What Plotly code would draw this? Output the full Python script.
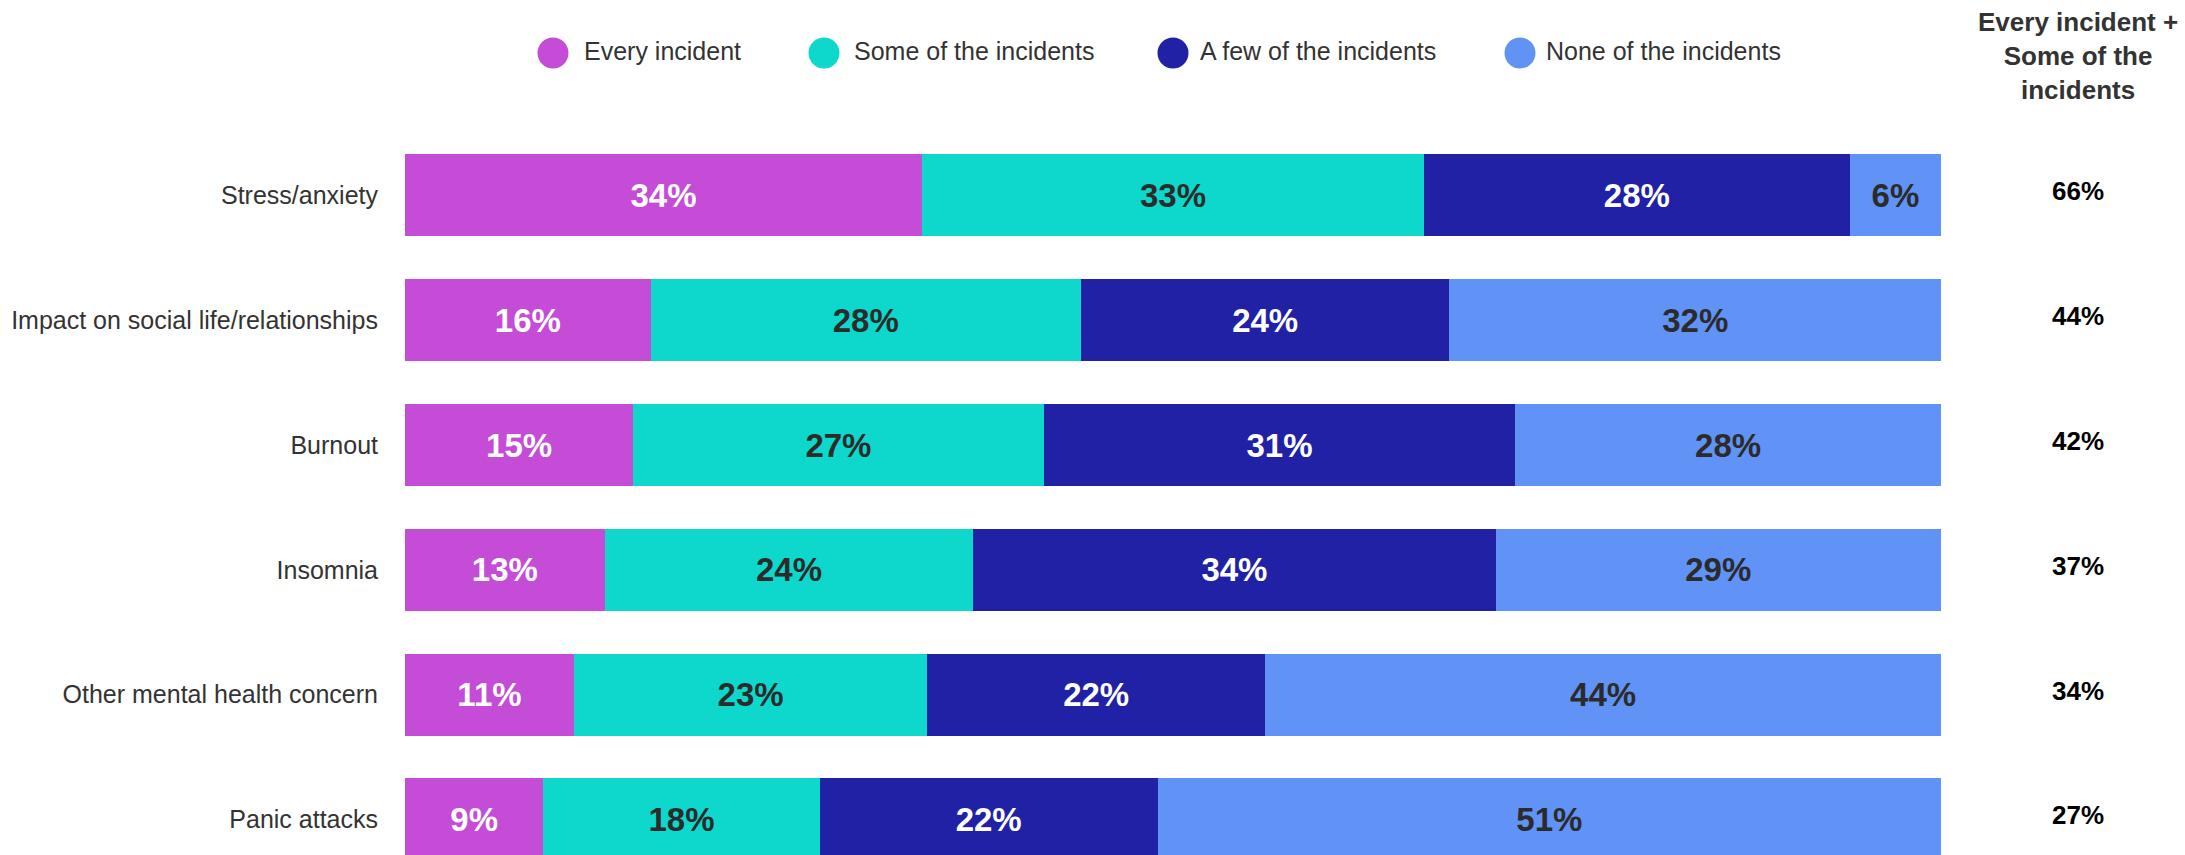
import plotly.graph_objects as go

# Survey data: how often each concern occurred across incidents
categories = [
    "Stress/anxiety",
    "Impact on social life/relationships",
    "Burnout",
    "Insomnia",
    "Other mental health concern",
    "Panic attacks",
]
series_names = [
    "Every incident",
    "Some of the incidents",
    "A few of the incidents",
    "None of the incidents",
]
every_incident = [34, 16, 15, 13, 11, 9]
some_incidents = [33, 28, 27, 24, 23, 18]
few_incidents = [28, 24, 31, 34, 22, 22]
no_incidents = [6, 32, 28, 29, 44, 51]
every_plus_some = [66, 44, 42, 37, 34, 27]
summary_header = "Every incident +<br>Some of the<br>incidents"

series_values = [every_incident, some_incidents, few_incidents, no_incidents]
colors = ["#C54CD7", "#0ED7CC", "#2121A5", "#6192F5"]
label_colors = ["#FFFFFF", "#2B2B2B", "#FFFFFF", "#2B2B2B"]

W, H = 2185, 855
ML, MR, MT, MB = 405, 244, 133, 0
PW, PH = W - ML - MR, H - MT - MB
ROW = 124.8  # pixels per category row

FONT = "Liberation Sans, Arial, sans-serif"


def px_x(px):
    return (px - ML) / PW


def px_y(py):
    return (H - MB - py) / PH


fig = go.Figure()
for name, vals, col, tcol in zip(series_names, series_values, colors, label_colors):
    fig.add_trace(go.Bar(
        y=categories,
        x=vals,
        name=name,
        orientation="h",
        marker=dict(color=col, line=dict(width=0)),
        text=[f"{v}%" for v in vals],
        texttemplate="%{text}",
        textposition="inside",
        insidetextanchor="middle",
        textangle=0,
        insidetextfont=dict(family=FONT, size=33, color=tcol, weight="bold"),
        hoverinfo="skip",
        showlegend=False,
    ))

annotations = []
shapes = []

# Legend drawn as circles + labels
legend_marker_x = [553, 824, 1173, 1520]
legend_text_x = [582, 852, 1198, 1544]
for name, col, mx, tx in zip(series_names, colors, legend_marker_x, legend_text_x):
    shapes.append(dict(
        type="circle", xref="paper", yref="paper",
        xsizemode="pixel", ysizemode="pixel",
        xanchor=px_x(mx), yanchor=px_y(53),
        x0=-15.5, x1=15.5, y0=-15.5, y1=15.5,
        fillcolor=col, line=dict(width=0),
    ))
    annotations.append(dict(
        x=px_x(tx), y=px_y(51), xref="paper", yref="paper",
        xanchor="left", yanchor="middle", showarrow=False,
        text=name, font=dict(family=FONT, size=25, color="#333333"),
    ))

# Summary column on the right
annotations.append(dict(
    x=px_x(2078), y=px_y(56), xref="paper", yref="paper",
    xanchor="center", yanchor="middle", showarrow=False, align="center",
    text=f"<b>{summary_header}</b>",
    font=dict(family=FONT, size=26, color="#333333"),
))
for cat, v in zip(categories, every_plus_some):
    annotations.append(dict(
        x=px_x(2078), y=cat, xref="paper", yref="y",
        xanchor="center", yanchor="middle", showarrow=False, yshift=4,
        text=f"<b>{v}%</b>",
        font=dict(family=FONT, size=26, color="#000000"),
    ))

fig.update_layout(
    width=W, height=H,
    margin=dict(l=ML, r=MR, t=MT, b=MB, pad=0),
    paper_bgcolor="white", plot_bgcolor="white",
    barmode="stack", barnorm="percent", bargap=0.343,
    showlegend=False,
    xaxis=dict(range=[0, 100], visible=False, fixedrange=True),
    yaxis=dict(
        type="category",
        categoryorder="array", categoryarray=categories,
        range=[-0.5 + PH / ROW, -0.5],
        showgrid=False, zeroline=False, showline=False,
        ticks="", ticklabelstandoff=26,
        tickfont=dict(family=FONT, size=25, color="#333333"),
        fixedrange=True,
    ),
    shapes=shapes,
    annotations=annotations,
    uniformtext=dict(minsize=33, mode="show"),
)

fig.write_html("out.html", config={"displayModeBar": False, "staticPlot": True})
